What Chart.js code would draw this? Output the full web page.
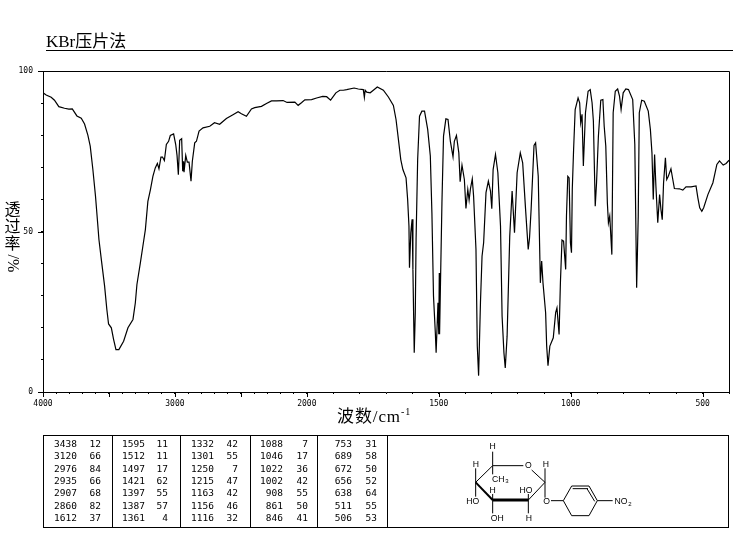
<!DOCTYPE html>
<html>
<head>
<meta charset="utf-8">
<script src="https://cdn.jsdelivr.net/npm/chart.js@4"></script>
<style>
    html, body { margin: 0; padding: 0; background: #fff; }
    #page { position: relative; width: 737px; height: 539px; overflow: hidden; color: #000; }
    #spectrum { position: absolute; left: 0; top: 0; }
    .serif { position: absolute; font-family: "Liberation Serif", "Noto Sans CJK SC", serif; white-space: nowrap; }
    #sampleTitle { left: 46px; top: 32px; font-size: 17px; line-height: 20px; }
    #titleRule { position: absolute; left: 46px; top: 50px; width: 687px; height: 1px; background: #000; }
    #yTitle { left: 4px; top: 201px; width: 17px; font-size: 16px; line-height: 17px; text-align: center; }
    #yTitle span { display: block; }
    #yTitle .turned { margin-top: 3px; transform: rotate(90deg); line-height: 16px; }
    #xTitle { left: 337px; top: 407px; font-size: 17px; line-height: 20px; letter-spacing: 0.9px; }
    #xTitle sup { font-size: 10px; line-height: 0; }
    #peakTable { position: absolute; left: 43px; top: 435px; width: 686px; height: 93px; box-sizing: border-box; border: 1px solid #000; }
    .divider { position: absolute; top: 0; bottom: 0; width: 1px; background: #000; }
    .cell { position: absolute; font: 9.5px/10px "DejaVu Sans Mono", "Liberation Mono", monospace; text-align: right; }
    #structure { position: absolute; left: 440px; top: 430px; }
    #structure text { font: 26px "Liberation Sans", sans-serif; text-anchor: middle; }
    #structure line { stroke: #000; stroke-width: 3; }
</style>
</head>
<body>
<div id="page">
    <canvas id="spectrum" width="737" height="539"></canvas>
    <div id="sampleTitle" class="serif">KBr压片法</div>
    <div id="titleRule"></div>
    <div id="yTitle" class="serif"><span>透</span><span>过</span><span>率</span><span class="turned">/%</span></div>
    <div id="xTitle" class="serif">波数/cm<sup>-1</sup></div>
    <div id="peakTable"></div>
    <svg id="structure" width="200" height="105" viewBox="0 0 600 315">
        <line x1="158" y1="107" x2="250" y2="107"/>
        <line x1="275" y1="120" x2="315" y2="157"/>
        <line x1="315" y1="157" x2="265" y2="210"/>
        <line x1="265" y1="210" x2="158" y2="210" style="stroke-width:9"/>
        <line x1="158" y1="210" x2="107" y2="157" style="stroke-width:6"/>
        <line x1="107" y1="157" x2="158" y2="107"/>
        <line x1="158" y1="65" x2="158" y2="107"/>
        <line x1="158" y1="107" x2="158" y2="133"/>
        <line x1="107" y1="115" x2="107" y2="200"/>
        <line x1="315" y1="115" x2="315" y2="203"/>
        <line x1="158" y1="192" x2="158" y2="250"/>
        <line x1="265" y1="192" x2="265" y2="250"/>
        <line x1="333" y1="212" x2="370" y2="212"/>
        <line x1="370" y1="212" x2="395" y2="168"/>
        <line x1="395" y1="168" x2="447" y2="168"/>
        <line x1="398" y1="176" x2="444" y2="176"/>
        <line x1="447" y1="168" x2="472" y2="212"/>
        <line x1="441" y1="176" x2="464" y2="214"/>
        <line x1="472" y1="212" x2="447" y2="257"/>
        <line x1="447" y1="257" x2="395" y2="257"/>
        <line x1="395" y1="257" x2="370" y2="212"/>
        <line x1="472" y1="212" x2="518" y2="212"/>
        <text x="158" y="58">H</text>
        <text x="108" y="111">H</text>
        <text x="265" y="113">O</text>
        <text x="318" y="111">H</text>
        <text x="175" y="155">CH</text>
        <text x="201" y="158" style="font-size:18px">3</text>
        <text x="158" y="189">H</text>
        <text x="258" y="189">HO</text>
        <text x="98" y="222">HO</text>
        <text x="320" y="222">O</text>
        <text x="543" y="222">NO</text>
        <text x="570" y="227" style="font-size:18px">2</text>
        <text x="172" y="274">OH</text>
        <text x="267" y="274">H</text>
    </svg>
</div>
<script>
// Spectrum
const wavenumbers = [
    4000, 3976, 3938, 3913, 3880, 3837, 3804, 3778, 3743, 3710, 3685, 3660, 3642, 3622, 3602, 3584,
    3576, 3558, 3533, 3516, 3503, 3482, 3465, 3447, 3425, 3389, 3356, 3318, 3300, 3288, 3262, 3243,
    3224, 3205, 3186, 3167, 3149, 3133, 3121, 3106, 3094, 3080, 3065, 3048, 3035, 3010, 2994, 2984,
    2974, 2964, 2949, 2941, 2934, 2931, 2918, 2906, 2893, 2878, 2868, 2850, 2837, 2817, 2787, 2736,
    2700, 2661, 2610, 2560, 2521, 2496, 2458, 2420, 2395, 2344, 2306, 2268, 2230, 2180, 2150, 2091,
    2066, 2041, 2015, 1982, 1963, 1940, 1925, 1910, 1890, 1875, 1862, 1849, 1821, 1805, 1786, 1782,
    1779, 1773, 1760, 1748, 1733, 1710, 1691, 1672, 1662, 1653, 1644, 1636, 1624, 1618, 1613, 1611,
    1606, 1601, 1598, 1593, 1589, 1586, 1580, 1573, 1564, 1554, 1542, 1532, 1526, 1520, 1513, 1510,
    1503, 1500, 1498, 1497, 1488, 1482, 1473, 1465, 1456, 1446, 1441, 1433, 1424, 1419, 1412, 1403,
    1397, 1390, 1385, 1380, 1373, 1368, 1359, 1354, 1349, 1342, 1336, 1330, 1321, 1312, 1304, 1299,
    1294, 1285, 1276, 1266, 1260, 1253, 1248, 1241, 1231, 1222, 1213, 1203, 1191, 1182, 1171, 1161,
    1156, 1150, 1139, 1133, 1123, 1115, 1110, 1105, 1095, 1091, 1086, 1079, 1066, 1057, 1052, 1044,
    1039, 1033, 1027, 1019, 1016, 1011, 1006, 1001, 997, 994, 989, 983, 972, 966, 962, 957,
    952, 944, 934, 926, 919, 914, 907, 902, 895, 886, 878, 873, 867, 861, 857, 852,
    844, 839, 831, 822, 815, 809, 801, 791, 781, 765, 757, 750, 744, 740, 731, 721,
    706, 698, 692, 687, 682, 677, 670, 663, 658, 653, 648, 641, 636, 630, 620, 613,
    607, 588, 575, 563, 544, 525, 518, 511, 503, 496, 480, 461, 446, 436, 422, 411, 400
];
const transmittance = [
    93.2, 92.5, 91.8, 90.9, 88.9, 88.4, 88.1, 88.2, 86.0, 85.3, 83.5, 80.0, 76.6, 69.3, 61.0, 51.7,
    47.5, 41.3, 33.0, 25.7, 21.2, 20.0, 16.4, 13.2, 13.2, 15.8, 20.0, 22.6, 27.8, 33.5, 40.2, 45.4,
    50.6, 59.4, 63.0, 67.2, 69.8, 71.2, 69.5, 73.2, 73.2, 72.1, 77.1, 78.1, 79.9, 80.4, 77.1, 73.7,
    67.7, 78.4, 78.9, 68.8, 71.9, 68.5, 73.7, 71.6, 71.6, 65.7, 71.9, 77.6, 78.1, 81.3, 82.3, 82.8,
    83.9, 83.4, 85.2, 86.4, 87.3, 86.7, 85.9, 88.2, 88.6, 89.0, 89.9, 90.7, 90.7, 90.8, 90.2, 90.3,
    89.3, 90.1, 91.0, 91.1, 91.6, 92.1, 92.0, 90.9, 93.2, 94.0, 94.0, 94.2, 94.7, 94.4, 94.2, 91.8,
    94.0, 93.4, 93.2, 94.0, 95.0, 94.0, 91.9, 89.3, 84.9, 78.7, 72.4, 69.3, 66.7, 60.0, 51.7, 38.7,
    49.6, 53.8, 38.2, 12.2, 24.7, 47.5, 72.4, 85.9, 87.5, 87.5, 81.8, 73.5, 55.8, 29.9, 18.4, 12.2,
    27.8, 18.0, 37.1, 18.0, 58.9, 79.7, 85.1, 84.9, 78.1, 73.3, 78.1, 79.9, 74.5, 65.5, 70.7, 66.2,
    57.2, 63.1, 59.8, 63.3, 66.4, 61.0, 44.4, 14.3, 5.1, 27.8, 42.3, 46.5, 62.1, 65.7, 62.6, 57.1,
    69.3, 74.0, 68.3, 51.7, 23.6, 12.2, 7.5, 17.4, 48.6, 62.6, 49.6, 68.3, 74.5, 71.4, 56.9, 44.4,
    48.0, 56.9, 76.8, 77.6, 67.2, 34.0, 40.8, 34.0, 24.7, 14.3, 8.2, 14.3, 16.9, 24.7, 26.2, 17.9,
    34.0, 47.3, 47.0, 38.2, 54.8, 67.2, 66.7, 46.5, 43.4, 63.1, 75.5, 88.0, 91.6, 90.1, 83.9, 86.5,
    70.4, 87.0, 93.7, 94.2, 90.1, 84.4, 57.9, 65.2, 79.7, 90.9, 91.1, 82.8, 76.6, 58.9, 52.7, 54.8,
    42.8, 87.0, 93.7, 94.4, 92.2, 88.0, 93.2, 94.4, 94.2, 91.1, 77.1, 32.5, 54.8, 87.0, 90.9, 90.6,
    87.5, 81.8, 74.5, 60.0, 74.0, 64.1, 52.7, 61.5, 56.9, 53.7, 65.2, 73.0, 66.2, 67.2, 69.5, 66.2,
    63.4, 63.3, 62.9, 63.9, 63.9, 64.2, 60.5, 57.4, 56.3, 57.4, 61.5, 65.2, 70.9, 72.0, 70.7, 71.2, 72.2
];

// Peak list under the chart, one array per column
const peakColumns = [
    [3438, 3120, 2976, 2935, 2907, 2860, 1612],
    [1595, 1512, 1497, 1421, 1397, 1387, 1361],
    [1332, 1301, 1250, 1215, 1163, 1156, 1116],
    [1088, 1046, 1022, 1002, 908, 861, 846],
    [753, 689, 672, 656, 638, 511, 506]
];
const peakValues = [
    [12, 66, 84, 66, 68, 82, 37],
    [11, 11, 17, 62, 55, 57, 4],
    [42, 55, 7, 47, 42, 46, 32],
    [7, 17, 36, 42, 55, 50, 41],
    [31, 58, 50, 52, 64, 55, 53]
];

const xLabels = [4000, 3000, 2000, 1500, 1000, 500];
const yLabels = [0, 50, 100];

// The wavenumber axis changes scale at 2000, so 4000-2000 takes half the room per unit
function toAxis(w) {
    return w >= 2000 ? (4000 - w) / 2 : 3000 - w;
}
function fromAxis(v) {
    return v <= 1000 ? 4000 - v * 2 : 3000 - v;
}

// Peak table
const table = document.getElementById('peakTable');
const columnLeft = [0, 69, 137, 207, 274];
const wnRight = [33, 32, 33, 32, 34];
const valueRight = [57, 55, 57, 57, 59];

function addCell(text, left, top) {
    const cell = document.createElement('div');
    cell.className = 'cell';
    cell.textContent = text;
    cell.style.left = (left - 30) + 'px';
    cell.style.width = '30px';
    cell.style.top = top + 'px';
    table.appendChild(cell);
}

peakColumns.forEach((column, c) => {
    column.forEach((w, r) => {
        const top = 3 + r * 12.35;
        addCell(w, columnLeft[c] + wnRight[c], top);
        addCell(peakValues[c][r], columnLeft[c] + valueRight[c], top);
    });
});
[68, 136, 206, 273, 343].forEach(left => {
    const line = document.createElement('div');
    line.className = 'divider';
    line.style.left = left + 'px';
    table.appendChild(line);
});

// Frame on the top and right, plus the longer ticks at every 500 and at 0/50/100
const frameAndTicks = {
    id: 'frameAndTicks',
    afterDraw(chart) {
        const { ctx, chartArea: a, scales } = chart;
        ctx.save();
        ctx.strokeStyle = '#000';
        ctx.lineWidth = 1;
        ctx.beginPath();
        ctx.moveTo(a.left, a.top + 0.5);
        ctx.lineTo(a.right + 0.5, a.top + 0.5);
        ctx.lineTo(a.right + 0.5, a.bottom);
        [4000, 3500, 3000, 2500, 2000, 1500, 1000, 500].forEach(w => {
            const x = Math.round(scales.x.getPixelForValue(toAxis(w))) + 0.5;
            ctx.moveTo(x, a.bottom);
            ctx.lineTo(x, a.bottom + 5);
        });
        yLabels.forEach(t => {
            const y = Math.round(scales.y.getPixelForValue(t)) + 0.5;
            ctx.moveTo(a.left - 5, y);
            ctx.lineTo(a.left, y);
        });
        ctx.stroke();
        ctx.restore();
    }
};

new Chart(document.getElementById('spectrum'), {
    type: 'line',
    data: {
        datasets: [{
            data: wavenumbers.map((w, i) => ({ x: toAxis(w), y: transmittance[i] })),
            borderColor: '#000',
            borderWidth: 1.2,
            pointRadius: 0,
            tension: 0,
            fill: false
        }]
    },
    options: {
        responsive: false,
        animation: false,
        layout: { padding: { left: 0, top: 71, right: 8, bottom: 0 } },
        plugins: { legend: { display: false }, tooltip: { enabled: false } },
        scales: {
            x: {
                type: 'linear',
                min: 0,
                max: 2600,
                afterFit: scale => { scale.height = 147; },
                afterBuildTicks: scale => {
                    const ticks = [];
                    for (let w = 4000; w >= 400; w -= 100) {
                        ticks.push({ value: toAxis(w) });
                    }
                    scale.ticks = ticks;
                },
                border: { color: '#000', width: 1 },
                grid: { drawOnChartArea: false, color: '#000', tickLength: 2 },
                ticks: {
                    color: '#000',
                    autoSkip: false,
                    maxRotation: 0,
                    padding: 5,
                    font: { family: '"DejaVu Sans Mono"', size: 8 },
                    callback: value => {
                        const w = Math.round(fromAxis(value));
                        return xLabels.includes(w) ? String(w) : '';
                    }
                }
            },
            y: {
                min: 0,
                max: 100,
                afterFit: scale => { scale.width = 43; },
                border: { color: '#000', width: 1 },
                grid: { drawOnChartArea: false, color: '#000', tickLength: 2 },
                ticks: {
                    color: '#000',
                    stepSize: 10,
                    padding: 8,
                    font: { family: '"DejaVu Sans Mono"', size: 8 },
                    callback: value => (yLabels.includes(value) ? String(value) : '')
                }
            }
        }
    },
    plugins: [frameAndTicks]
});
</script>
</body>
</html>
